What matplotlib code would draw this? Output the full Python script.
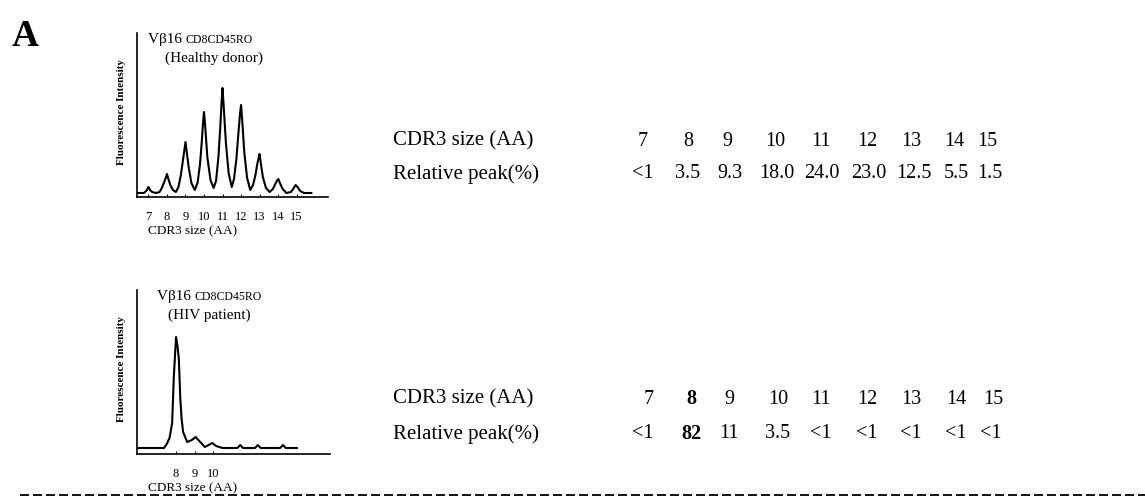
import matplotlib
matplotlib.use("Agg")
import matplotlib.pyplot as plt
from matplotlib.lines import Line2D

plt.rcParams["font.family"] = ["Liberation Serif", "DejaVu Serif"]

W, H = 1145, 504

# spectratype traces (x: CDR3 size in AA, y: intensity a.u.)
healthy_x = [6.38, 6.75, 6.88, 6.97, 7.0, 7.08, 7.2, 7.4,
             7.6, 7.72, 7.85, 7.95, 8.0, 8.06, 8.18, 8.32, 8.48,
             8.62, 8.75, 8.85, 8.94, 9.0, 9.06, 9.17, 9.32, 9.5,
             9.65, 9.78, 9.88, 9.95, 10.0, 10.06, 10.18, 10.35, 10.52,
             10.65, 10.78, 10.88, 10.95, 11.0, 11.06, 11.18, 11.33, 11.5,
             11.62, 11.75, 11.86, 11.94, 12.0, 12.06, 12.18, 12.33, 12.5,
             12.65, 12.78, 12.88, 12.95, 13.0, 13.06, 13.18, 13.35, 13.55,
             13.72, 13.85, 13.96, 14.02, 14.1, 14.25, 14.45,
             14.7, 14.85, 14.95, 15.05, 15.2, 15.4, 15.8]
healthy_y = [4, 4, 6, 9, 10, 7, 5, 4,
             5, 9, 15, 20, 23, 19, 12, 7, 5,
             10, 22, 35, 47, 55, 46, 30, 14, 7,
             14, 32, 55, 75, 85, 72, 40, 17, 9,
             16, 40, 70, 95, 109, 92, 55, 24, 10,
             18, 38, 64, 82, 92, 78, 44, 19, 7,
             12, 22, 33, 39, 43, 35, 20, 9, 5,
             8, 13, 17, 18, 14, 8, 4,
             5, 9, 12, 10, 6, 4, 4]

hiv_x = [5.9, 7.35, 7.5, 7.65, 7.79, 7.88, 8.0, 8.08, 8.15, 8.23, 8.3, 8.38, 8.6,
         8.85, 9.05, 9.25, 9.55, 9.75, 9.95, 10.15, 10.5, 11.3, 11.45, 11.6,
         12.25, 12.4, 12.55, 13.6, 13.75, 13.9, 14.5]
hiv_y = [6, 6, 10, 16, 31, 77, 117, 108, 95, 55, 35, 22, 12,
         14, 17, 13, 7, 9, 11, 8, 6, 6, 9, 6,
         6, 9, 6, 6, 9, 6, 6]

healthy_ticks = [7, 8, 9, 10, 11, 12, 13, 14, 15]
hiv_ticks = [8, 9, 10]

# table values
cdr3_sizes = [7, 8, 9, 10, 11, 12, 13, 14, 15]
healthy_peak = ["<1", "3.5", "9.3", "18.0", "24.0", "23.0", "12.5", "5.5", "1.5"]
hiv_peak = ["<1", "82", "11", "3.5", "<1", "<1", "<1", "<1", "<1"]
hiv_bold = [False, True, False, False, False, False, False, False, False]


def fx(px):
    return px / W


def fy(py):
    return 1 - py / H


fig = plt.figure(figsize=(W / 100, H / 100), dpi=100)

fig.text(fx(12), fy(46), "A", fontsize=27, fontweight="bold", va="baseline")

panels = (
    # trace x, trace y, ticks, xlim, axes box (left, bottom, width, height) in px,
    # title x, subtitle, subtitle centre x
    (healthy_x, healthy_y, healthy_ticks, (6.38, 16.7), (137, 197, 191, 164), 148,
     "(Healthy donor)", 214),
    (hiv_x, hiv_y, hiv_ticks, (5.9, 16.28), (137, 454, 193, 164), 157,
     "(HIV patient)", 209),
)

for xs, ys, ticks, xlim, (left, bottom, width, height), tx, sub, subx in panels:
    ax = fig.add_axes([fx(left), fy(bottom), width / W, height / H])
    ax.plot(xs, ys, color="black", lw=1.5)
    ax.set_xlim(*xlim)
    ax.set_ylim(0, height)
    for side in ("top", "right"):
        ax.spines[side].set_visible(False)
    for side in ("left", "bottom"):
        ax.spines[side].set_linewidth(1.2)
    ax.set_yticks([])
    ax.set_xticks(ticks)
    ax.set_xticklabels([str(t) for t in ticks], fontsize=9)
    ax.tick_params(axis="x", direction="in", length=2.5, width=0.8, pad=10)

    top = bottom - height
    t1 = fig.text(fx(tx), fy(top + 10), "V\u03b216 ", fontsize=11, va="baseline")
    ax.annotate("CD8CD45RO", xy=(1, 0), xycoords=t1, fontsize=8.5,
                va="bottom", ha="left", annotation_clip=False)
    fig.text(fx(subx), fy(top + 25), sub, fontsize=11, ha="center", va="center")

    fig.text(fx(122), fy(bottom - height / 2 - 3), "Fluorescence Intensity",
             fontsize=8, fontweight="bold", rotation=90, ha="center", va="center")
    fig.text(fx(193), fy(bottom + 34), "CDR3 size (AA)", fontsize=9.5,
             ha="center", va="center")

# right-hand tables: column centres in px
top_cols = [643, 688, 727, 775, 821, 867, 911, 954, 987]
top_vals_x = [643, 688, 730, 777, 822, 869, 914, 956, 990]
bot_cols = [649, 691, 729, 778, 821, 867, 911, 956, 993]
bot_vals_x = [643, 691, 729, 778, 821, 867, 911, 956, 991]

rows = (
    (141, 174, top_cols, top_vals_x, healthy_peak, [False] * 9),
    (399, 434, bot_cols, bot_vals_x, hiv_peak, hiv_bold),
)
for y1, y2, cols, vals_x, vals, bold in rows:
    fig.text(fx(393), fy(y1), "CDR3 size (AA)", fontsize=15, va="center")
    fig.text(fx(393), fy(y2), "Relative peak(%)", fontsize=15, va="center")
    for size, cx, b in zip(cdr3_sizes, cols, bold):
        fig.text(fx(cx), fy(y1), str(size), fontsize=14.5, ha="center", va="center",
                 fontweight="bold" if b else "normal")
    for val, cx, b in zip(vals, vals_x, bold):
        fig.text(fx(cx), fy(y2), val, fontsize=14.5, ha="center", va="center",
                 fontweight="bold" if b else "normal")

fig.add_artist(Line2D([fx(20), 1.0], [fy(495), fy(495)], color="black",
                      lw=1.3, ls=(0, (5, 2.2))))

fig.savefig("out.png", dpi=100)
